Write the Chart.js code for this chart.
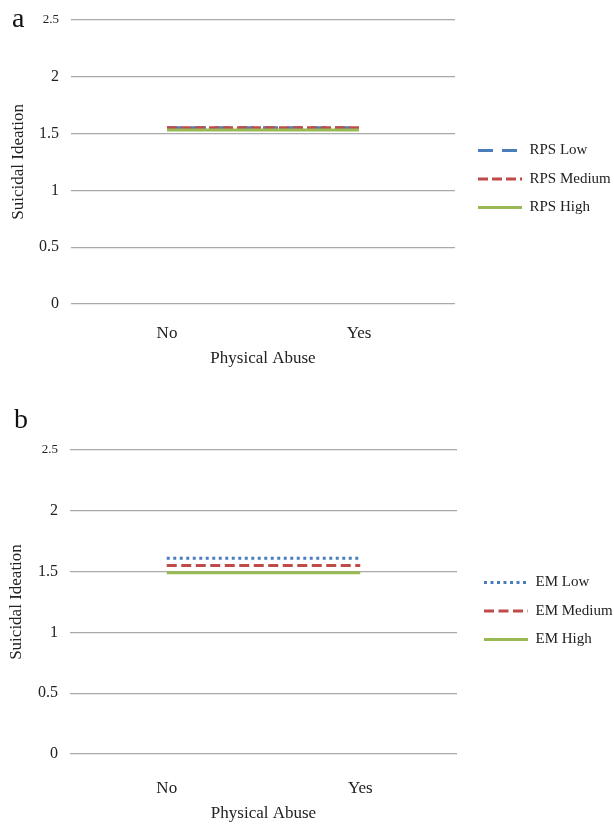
<!DOCTYPE html>
<html lang="en">
<head>
<meta charset="UTF-8">
<title>Suicidal Ideation by Physical Abuse</title>
<script src="https://cdn.jsdelivr.net/npm/chart.js@4"></script>
<style>
  body { margin: 0; background: #fff; width: 614px; height: 825px; position: relative; overflow: hidden; }
  canvas { position: absolute; left: 0; }
</style>
</head>
<body>
<canvas id="chartA" width="614" height="380" style="top:0"></canvas>
<canvas id="chartB" width="614" height="425" style="top:400px"></canvas>

<script>
// data
const categories = ['No', 'Yes'];
const yTickValues = [0, 0.5, 1, 1.5, 2, 2.5];

const rpsLabels = ['RPS Low', 'RPS Medium', 'RPS High'];
const rpsLow = [1.55, 1.55];
const rpsMedium = [1.55, 1.55];
const rpsHigh = [1.53, 1.53];

const emLabels = ['EM Low', 'EM Medium', 'EM High'];
const emLow = [1.61, 1.61];
const emMedium = [1.55, 1.55];
const emHigh = [1.49, 1.49];

const FONT = "'Liberation Serif', 'Times New Roman', serif";
const TEXT = '#222';
const colors = ['#4a7ebb', '#be4b48', '#98b954'];

function makeChart(id, panel, labels, series, dashes, lay) {
    const datasets = series.map((values, i) => ({
        label: labels[i],
        data: values,
        borderColor: colors[i],
        backgroundColor: colors[i],
        borderWidth: 3,
        borderDash: dashes[i],
        borderCapStyle: 'butt',
        pointRadius: 0,
        fill: false,
        tension: 0,
        order: 2 - i   // red over blue, green on top
    }));

    return new Chart(document.getElementById(id), {
        type: 'line',
        data: { labels: categories, datasets: datasets },
        options: {
            responsive: false,
            animation: false,
            layout: { padding: { top: 0, bottom: lay.padBottom, left: lay.padLeft, right: 0 } },
            plugins: {
                tooltip: { enabled: false },
                // panel letter
                title: {
                    display: true,
                    text: panel,
                    align: 'start',
                    color: '#111',
                    font: { family: FONT, size: 28, weight: 'normal', lineHeight: 0.6 },
                    padding: lay.titlePad
                },
                legend: {
                    position: 'right',
                    maxWidth: lay.legendWidth,
                    labels: {
                        usePointStyle: true,
                        pointStyle: 'line',
                        pointStyleWidth: 44,
                        padding: 13.5,
                        color: TEXT,
                        font: { family: FONT, size: 15 },
                        sort: (a, b) => a.datasetIndex - b.datasetIndex,
                        generateLabels: chart =>
                            Chart.defaults.plugins.legend.labels.generateLabels(chart).map(item => ({
                                ...item,
                                lineDash: chart.data.datasets[item.datasetIndex].borderDash,
                                lineWidth: 3
                            }))
                    }
                }
            },
            scales: {
                x: {
                    offset: true,
                    grid: { display: false },
                    border: { display: false },
                    ticks: { padding: lay.xTickPad, color: TEXT, font: { family: FONT, size: 17 } },
                    title: {
                        display: true,
                        text: 'Physical Abuse',
                        color: TEXT,
                        font: { family: FONT, size: 17 },
                        padding: { top: 0, bottom: lay.xTitlePad }
                    },
                    afterFit: s => { s.height = lay.xHeight; }
                },
                y: {
                    min: yTickValues[0],
                    max: yTickValues[yTickValues.length - 1],
                    afterBuildTicks: s => { s.ticks = yTickValues.map(v => ({ value: v })); },
                    grid: { color: '#a9a9a9', lineWidth: 1.2, drawTicks: false },
                    border: { display: false },
                    ticks: {
                        padding: 12,
                        color: TEXT,
                        callback: v => String(v),
                        font: ctx => ({ family: FONT, size: ctx.tick && ctx.tick.value === 2.5 ? 13 : 16 })
                    },
                    title: {
                        display: true,
                        text: 'Suicidal Ideation',
                        color: TEXT,
                        font: { family: FONT, size: 17 },
                        padding: { top: lay.yTitlePad, bottom: 0 }
                    },
                    afterFit: s => { s.width = lay.yWidth; }
                },
                // empty axis, only keeps a gap between plot and legend
                gap: {
                    type: 'linear',
                    position: 'right',
                    grid: { display: false },
                    border: { display: false },
                    ticks: { display: false },
                    afterFit: s => { s.width = lay.gap; }
                }
            }
        }
    });
}

makeChart('chartA', 'a', rpsLabels, [rpsLow, rpsMedium, rpsHigh], [[15, 9], [10, 4], []], {
    padLeft: 12, padBottom: 22, titlePad: { top: 7, bottom: -7.8 },
    xHeight: 54, xTickPad: 11, xTitlePad: -11,
    yWidth: 59, yTitlePad: -4, gap: 9.5, legendWidth: 149.5
});

makeChart('chartB', 'b', emLabels, [emLow, emMedium, emHigh], [[3, 3.5], [10, 4.5], []], {
    padLeft: 14, padBottom: 3, titlePad: { top: 12, bottom: 21.2 },
    xHeight: 68, xTickPad: 16, xTitlePad: -2,
    yWidth: 56, yTitlePad: -8, gap: 13.5, legendWidth: 143.5
});
</script>
</body>
</html>
